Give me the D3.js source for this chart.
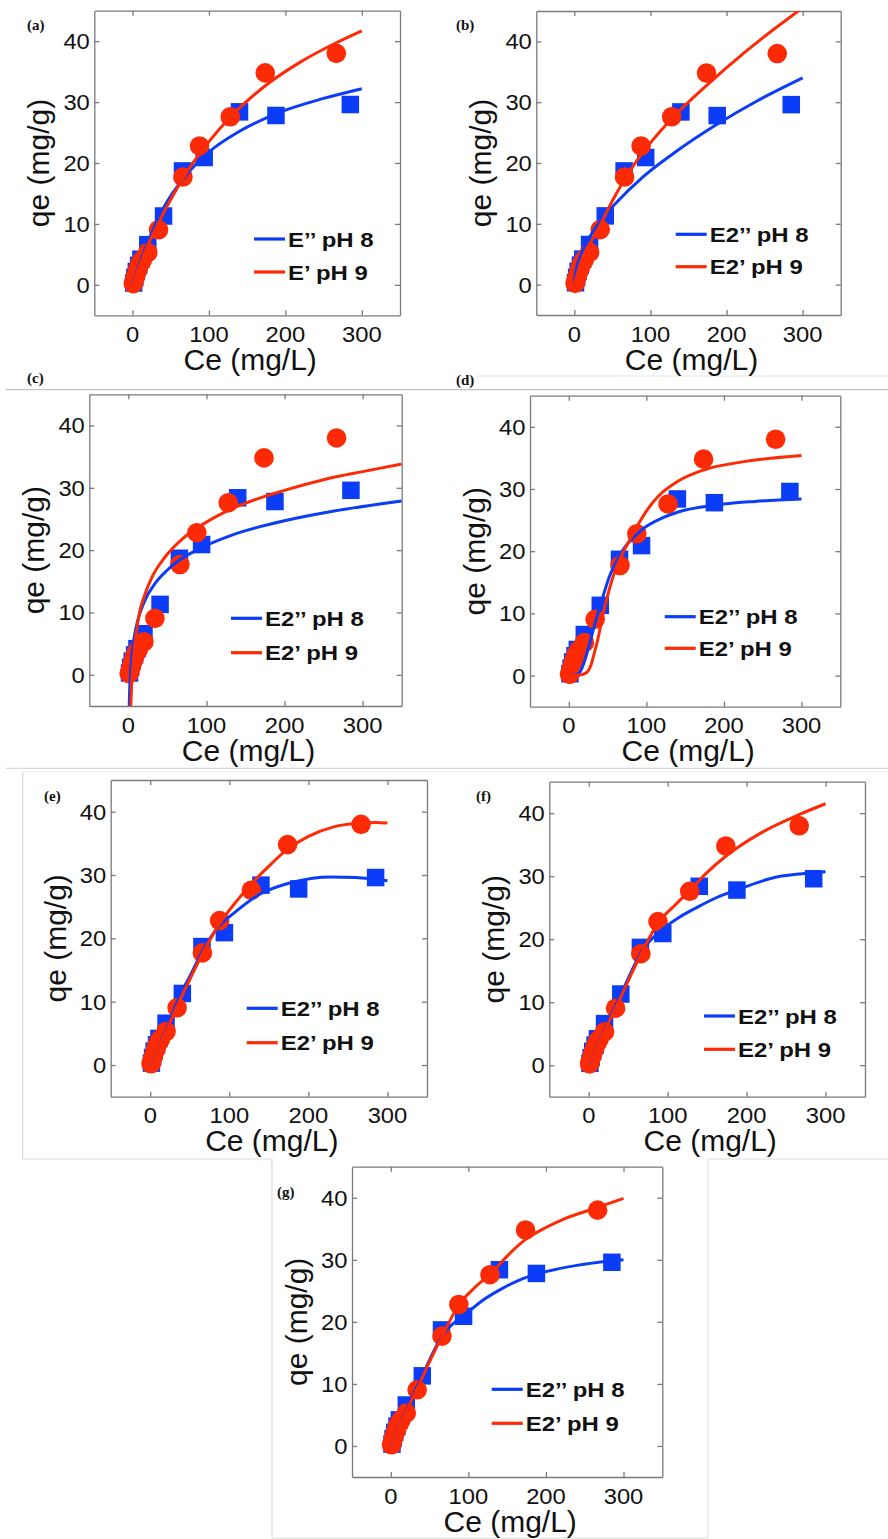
<!DOCTYPE html>
<html><head><meta charset="utf-8">
<script src="https://cdn.jsdelivr.net/npm/d3@7"></script>
<style>body{margin:0;background:#fff}svg{display:block}</style>
</head><body><svg id="c" width="888" height="1539"></svg>
<script>
// ---- data: experimental points (same in every panel) ----
const ceBlue = [1.5, 3, 5, 8, 11, 20, 40.6, 65.4, 93.8, 140, 187.7, 285];
const qeBlue = [0.3, 1.2, 2.2, 3.2, 4.2, 6.6, 11.3, 18.7, 20.9, 28.4, 27.8, 29.6];
const ceRed = [1, 2, 4, 6, 8, 10, 13, 20, 34, 66, 87.7, 127.9, 173.7, 266.6];
const qeRed = [0.2, 0.6, 1.4, 2.2, 2.9, 3.5, 4.1, 5.3, 9.05, 17.7, 22.8, 27.6, 34.8, 38.0];

// ---- fitted curves ----
const fitBlueA = [[0,0],[10,3.8],[20,7.0],[40,12.5],[70,18.0],[100,21.8],[140,25.2],[190,28.2],[250,30.6],[300,32.2]];
const fitRedA  = [[0,0],[10,3.4],[20,6.5],[35,10.4],[50,14.0],[70,18.3],[100,23.5],[130,27.8],[175,32.8],[220,36.6],[266,39.7],[300,41.7]];
const fitBlueB = [[0,0],[1,1.5],[3,2.8],[10,5.3],[20,7.8],[38,11.1],[56,13.6],[91,17.8],[135,22.0],[188,26.4],[240,30.2],[300,34.0]];
const fitRedB  = [[0,0],[5,2.3],[12,4.8],[20,6.6],[32,9.3],[50,13.8],[68,17.7],[91,21.9],[131,27.7],[175,32.9],[223,38.1],[260,41.8],[294,45.0],[300,45.6]];
const fitBlueC = [[1.1,-5],[1.5,-3.1],[2,-1.5],[3,0.8],[5,3.7],[8,6.4],[12,8.7],[21,11.9],[35,14.8],[49,16.7],[62,18.1],[92,20.3],[130,22.3],[203,24.8],[260,26.2],[350,27.9]];
const fitRedC  = [[3.1,-5],[4,-2.0],[5,0.1],[6.4,2.4],[8,4.5],[10,6.6],[15,10.4],[20,12.5],[30,15.6],[47,18.9],[70,21.9],[100,24.5],[130,26.5],[203,29.7],[250,31.3],[300,32.6],[350,33.8]];
const fitBlueD = [[0,0],[8,0.1],[14,0.5],[18,1.5],[22,3.0],[27,5.2],[33,8.0],[39,10.6],[46,13.5],[52,15.8],[60,18.0],[72,20.6],[85,22.4],[98,23.8],[120,25.3],[141,26.3],[188,27.4],[240,28.0],[300,28.4]];
const fitRedD  = [[0,0],[10,0.05],[18,0.2],[24,0.6],[28,1.5],[32,3.2],[37,5.6],[45,10.3],[56,15.5],[65,18.5],[75,21.0],[89,24.2],[102,26.8],[115,28.8],[140,31.2],[175,33.1],[226,34.4],[300,35.4]];
const fitBlueE = [[0,0],[10,2.7],[20,5.5],[38,11.1],[50,14.0],[67,18.2],[86,21.8],[105,23.9],[139,27.0],[181,28.9],[228,29.7],[260,29.6],[300,29.1]];
const fitRedE  = [[0,0],[10,2.7],[21,5.6],[33,9.0],[50,13.5],[67,17.8],[86,22.0],[110,26.0],[131,29.0],[150,31.4],[173,34.0],[200,36.1],[232,37.6],[266,38.2],[285,38.3],[300,38.2]];
const fitBlueF = [[0,0],[10,2.8],[20,5.6],[45,12.4],[67.6,18.2],[91.7,21.4],[115,23.5],[138,25.1],[160,26.5],[189,27.9],[239.5,29.9],[270,30.4],[300,30.7]];
const fitRedF  = [[0,0],[10,2.7],[20,5.5],[34.6,9.2],[50,13.4],[67.6,18.0],[87.5,22.5],[110,25.5],[130,28.0],[150,30.6],[176,33.4],[220,37.0],[267,39.8],[300,41.5]];
const fitBlueG = [[0,0],[10,2.9],[20,5.8],[40,11.2],[67,17.9],[98,21.4],[120,23.6],[141,25.2],[165,26.7],[188,27.7],[240,29.1],[283,29.8],[300,30.0]];
const fitRedG  = [[0,0],[10,2.8],[20,5.6],[33.5,9.1],[50,13.6],[67,17.9],[87,22.6],[108,25.5],[130,27.9],[150,30.6],[173,33.2],[200,35.2],[220,36.4],[265.6,38.4],[300,39.9]];

// ---- texts / ticks ----
const xTicks = [0, 100, 200, 300];
const yTicks = [0, 10, 20, 30, 40];
const xDomain = [-50, 350];
const yDomain = [-5, 45];
const panelLabels = ['(a)','(b)','(c)','(d)','(e)','(f)','(g)'];
const legendBlue = ['E\u2019\u2019 pH 8','E2\u2019\u2019 pH 8','E2\u2019\u2019 pH 8','E2\u2019\u2019 pH 8','E2\u2019\u2019 pH 8','E2\u2019\u2019 pH 8','E2\u2019\u2019 pH 8'];
const legendRed  = ['E\u2019 pH 9','E2\u2019 pH 9','E2\u2019 pH 9','E2\u2019 pH 9','E2\u2019 pH 9','E2\u2019 pH 9','E2\u2019 pH 9'];
const xLabel = 'Ce (mg/L)';
const yLabel = 'qe (mg/g)';
const fitsBlue = [fitBlueA, fitBlueB, fitBlueC, fitBlueD, fitBlueE, fitBlueF, fitBlueG];
const fitsRed  = [fitRedA, fitRedB, fitRedC, fitRedD, fitRedE, fitRedF, fitRedG];

// ---- layout (positions only) ----
const layout = [
  {l:94.3, t:10.7, w:305.7, h:304.6, lx:254, ly1:239, ly2:272, px:27, py:30},
  {l:536.3, t:11, w:304.4, h:304, lx:675.7, ly1:234.3, ly2:266.7, px:456, py:30},
  {l:89.3, t:394.3, w:312.4, h:311.7, lx:231, ly1:618.3, ly2:652.7, px:27, py:383},
  {l:530, t:395.7, w:310.3, h:311, lx:664.7, ly1:616.7, ly2:648.3, px:456, py:384.5},
  {l:110.7, t:780, w:316.3, h:316.7, lx:246.7, ly1:1008.3, ly2:1042.7, px:44, py:800.5},
  {l:549.3, t:781.7, w:315.7, h:315, lx:704, ly1:1016, ly2:1049.3, px:476, py:800.5},
  {l:352, t:1166.7, w:310.3, h:310.3, lx:491.7, ly1:1389.3, ly2:1423.3, px:277, py:1197}
];

const BLUE = '#0b3cf7', RED = '#fd2a06', FRAME = '#7a7a7a';
const FONT = '"Liberation Sans", Arial, Helvetica, sans-serif';
const svg = d3.select('#c');

// page separators
const seps = [
  [476,376,888,376,'#e6e6e6'],
  [5.7,389.7,888,389.7,'#c4c4c4'],
  [5.7,768.3,888,768.3,'#d8d8d8'],
  [22.6,771.7,888,771.7,'#eeeeee'],
  [22.6,771.7,22.6,1159,'#d8d8d8'],
  [22.6,1159,272,1159,'#dcdcdc'],
  [708,1159,888,1159,'#dcdcdc'],
  [272,1159,272,1538,'#dcdcdc'],
  [708,1159,708,1538,'#e4e4e4'],
  [272,1538,708,1538,'#dcdcdc']
];
svg.selectAll('line.sep').data(seps).join('line').attr('class','sep')
  .attr('x1',d=>d[0]).attr('y1',d=>d[1]).attr('x2',d=>d[2]).attr('y2',d=>d[3])
  .attr('stroke',d=>d[4]).attr('stroke-width',1.2);

layout.forEach((L, i) => {
  const x = d3.scaleLinear().domain(xDomain).range([L.l, L.l + L.w]);
  const y = d3.scaleLinear().domain(yDomain).range([L.t + L.h, L.t]);
  const g = svg.append('g');
  const cid = 'clip' + i;
  svg.append('clipPath').attr('id', cid).append('rect')
    .attr('x', L.l).attr('y', L.t).attr('width', L.w).attr('height', L.h);

  // frame with inward ticks on four sides
  const tl = 5;
  const axB = d3.axisBottom(x).tickValues(xTicks).tickSizeInner(-tl).tickSizeOuter(0).tickFormat('');
  const axT = d3.axisTop(x).tickValues(xTicks).tickSizeInner(-tl).tickSizeOuter(0).tickFormat('');
  const axL = d3.axisLeft(y).tickValues(yTicks).tickSizeInner(-tl).tickSizeOuter(0).tickFormat('');
  const axR = d3.axisRight(y).tickValues(yTicks).tickSizeInner(-tl).tickSizeOuter(0).tickFormat('');
  [[axB,`translate(0,${L.t+L.h})`],[axT,`translate(0,${L.t})`],[axL,`translate(${L.l},0)`],[axR,`translate(${L.l+L.w},0)`]]
    .forEach(([ax,tr]) => {
      const a = g.append('g').attr('transform', tr).call(ax);
      a.selectAll('path,line').attr('stroke', FRAME).attr('stroke-width', 1.3);
    });

  // tick labels (slightly wide glyphs, as in the original)
  g.selectAll('text.xt').data(xTicks).join('text').attr('class','xt')
    .attr('transform', d => `translate(${x(d)},${L.t + L.h + 26.7}) scale(1.08,1)`)
    .attr('text-anchor','middle').attr('font-family', FONT)
    .attr('font-size', 22).attr('fill','#111').text(d => d);
  g.selectAll('text.yt').data(yTicks).join('text').attr('class','yt')
    .attr('transform', d => `translate(${L.l - 4.5},${y(d)}) scale(1.08,1)`).attr('dy','0.36em')
    .attr('text-anchor','end').attr('font-family', FONT)
    .attr('font-size', 22).attr('fill','#111').text(d => d);

  // axis labels
  g.append('text').attr('x', L.l + L.w/2 + 3).attr('y', L.t + L.h + 54.5)
    .attr('text-anchor','middle').attr('font-family', FONT)
    .attr('font-size', 30).attr('fill','#111').text(xLabel);
  g.append('text').attr('transform', `translate(${L.l - 45},${L.t + L.h/2}) rotate(-90)`)
    .attr('text-anchor','middle').attr('font-family', FONT)
    .attr('font-size', 30).attr('fill','#111').text(yLabel);

  // panel label
  g.append('text').attr('x', L.px).attr('y', L.py)
    .attr('font-family','"Liberation Serif", "Times New Roman", serif').attr('font-weight','bold')
    .attr('font-size', 15).attr('fill','#111').text(panelLabels[i]);

  const plot = g.append('g').attr('clip-path', `url(#${cid})`);
  // markers
  const sq = 17.5;
  plot.selectAll('rect.b').data(ceBlue.map((c,k)=>[c,qeBlue[k]])).join('rect').attr('class','b')
    .attr('x', d => x(d[0]) - sq/2).attr('y', d => y(d[1]) - sq/2)
    .attr('width', sq).attr('height', sq).attr('fill', BLUE);
  plot.selectAll('circle.r').data(ceRed.map((c,k)=>[c,qeRed[k]])).join('circle').attr('class','r')
    .attr('cx', d => x(d[0])).attr('cy', d => y(d[1])).attr('r', 9.8).attr('fill', RED);

  // fitted curves
  const line = d3.line().x(d => x(d[0])).y(d => y(d[1])).curve(d3.curveMonotoneX);
  plot.append('path').datum(fitsBlue[i]).attr('d', line).attr('fill','none')
    .attr('stroke', BLUE).attr('stroke-width', 3);
  plot.append('path').datum(fitsRed[i]).attr('d', line).attr('fill','none')
    .attr('stroke', RED).attr('stroke-width', 3);

  // legend
  [[L.ly1, BLUE, legendBlue[i]], [L.ly2, RED, legendRed[i]]].forEach(([ly, col, txt]) => {
    g.append('line').attr('x1', L.lx).attr('x2', L.lx + 31).attr('y1', ly).attr('y2', ly)
      .attr('stroke', col).attr('stroke-width', 3.2);
    g.append('text').attr('transform', `translate(${L.lx + 34},${ly + 7.6}) scale(1.14,1)`)
      .attr('font-family', FONT).attr('font-weight','bold')
      .attr('font-size', 21).attr('fill','#111').text(txt);
  });
});
</script>
</body></html>
